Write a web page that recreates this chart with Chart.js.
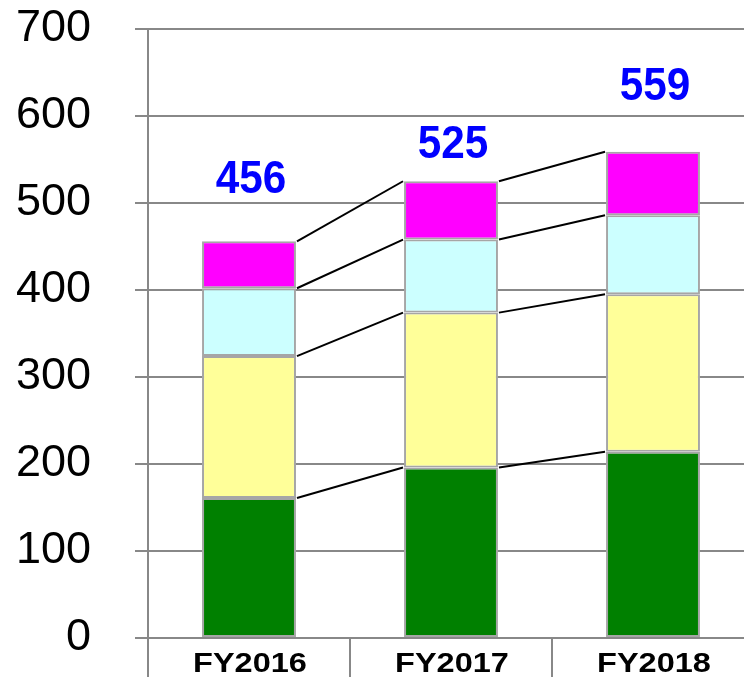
<!DOCTYPE html>
<html><head><meta charset="utf-8">
<script src="https://cdn.jsdelivr.net/npm/chart.js@4/dist/chart.umd.min.js"></script>
<style>html,body{margin:0;padding:0;background:#fff;overflow:hidden;}#wrap{width:756px;height:677px;}</style>
</head><body><div id="wrap"><canvas id="c" width="756" height="677"></canvas></div>
<script>
const categories = ['FY2016', 'FY2017', 'FY2018'];
const seg1 = [161, 196, 214];   // green
const seg2 = [163, 178, 181];   // yellow
const seg3 = [78, 84, 91];      // cyan
const seg4 = [54, 67, 73];      // magenta
const totals = [456, 525, 559];
const yTicks = [0, 100, 200, 300, 400, 500, 600, 700];

const colors = ['#008000', '#ffff99', '#ccffff', '#ff00ff'];
const seriesList = [seg1, seg2, seg3, seg4];
const FONT = '"Liberation Sans", Arial, sans-serif';

function stretchedText(ctx, text, x, y, sx, align) {
  ctx.save();
  ctx.translate(x, y);
  ctx.scale(sx, 1);
  ctx.textAlign = align;
  ctx.fillText(text, 0, 0);
  ctx.restore();
}

const decorations = {
  id: 'decorations',
  afterDatasetsDraw(chart) {
    const ctx = chart.ctx;
    const y = chart.scales.y;
    const x = chart.scales.x;
    const opts = chart.options.plugins.decorations;
    ctx.save();
    // connector lines between stacked segment tops
    ctx.strokeStyle = '#000';
    ctx.lineWidth = 2;
    const n = categories.length;
    for (let s = 0; s < seriesList.length; s++) {
      const meta = chart.getDatasetMeta(s);
      for (let i = 0; i < n - 1; i++) {
        let cumA = 0, cumB = 0;
        for (let k = 0; k <= s; k++) { cumA += seriesList[k][i]; cumB += seriesList[k][i + 1]; }
        const a = meta.data[i], b = meta.data[i + 1];
        ctx.beginPath();
        ctx.moveTo(a.x + a.width / 2 + 1, y.getPixelForValue(cumA));
        ctx.lineTo(b.x - b.width / 2 - 1, y.getPixelForValue(cumB));
        ctx.stroke();
      }
    }
    // totals
    const meta = chart.getDatasetMeta(seriesList.length - 1);
    ctx.fillStyle = '#0000ff';
    ctx.font = 'bold 47px ' + FONT;
    ctx.textBaseline = 'alphabetic';
    for (let i = 0; i < n; i++) {
      const px = meta.data[i].x;
      const py = y.getPixelForValue(totals[i]);
      stretchedText(ctx, String(totals[i]), px + 2, py - opts.offsets[i], 0.9, 'center');
    }
    // y tick labels
    ctx.fillStyle = '#000';
    ctx.font = '45px ' + FONT;
    ctx.textBaseline = 'middle';
    yTicks.forEach(v => {
      stretchedText(ctx, String(v), 91, y.getPixelForValue(v), 1.0, 'right');
    });
    // x tick labels
    ctx.font = 'bold 28px ' + FONT;
    ctx.textBaseline = 'alphabetic';
    categories.forEach((c, i) => {
      stretchedText(ctx, c, x.getPixelForValue(i) + 1, 672, 1.16, 'center');
    });
    ctx.restore();
  }
};

new Chart(document.getElementById('c'), {
  type: 'bar',
  data: {
    labels: categories,
    datasets: seriesList.map((d, i) => ({
      data: d,
      backgroundColor: colors[i],
      borderColor: '#a6a6a6',
      borderWidth: 2,
      borderSkipped: false,
      barPercentage: 0.465,
      categoryPercentage: 1
    }))
  },
  options: {
    responsive: false,
    animation: false,
    layout: { padding: { top: 29, right: 2, left: 0, bottom: 0 } },
    plugins: { legend: { display: false }, tooltip: { enabled: false }, decorations: { offsets: [48, 23, 52] } },
    scales: {
      x: {
        stacked: true,
        border: { display: true, color: '#888', width: 2 },
        grid: { offset: true, drawOnChartArea: false, drawTicks: true, tickLength: 40, color: '#888', lineWidth: 2 },
        ticks: { display: false },
        afterFit: s => { s.height = 39; s.paddingLeft = 0; s.paddingRight = 0; }
      },
      y: {
        stacked: true,
        min: 0, max: 700,
        afterBuildTicks: s => { s.ticks = yTicks.map(v => ({ value: v })); },
        border: { display: true, color: '#888', width: 2 },
        grid: { color: '#888', lineWidth: 2, tickLength: 13 },
        ticks: { display: false },
        afterFit: s => { s.width = 148; s.paddingTop = 0; s.paddingBottom = 0; }
      }
    }
  },
  plugins: [decorations]
});
</script></body></html>
